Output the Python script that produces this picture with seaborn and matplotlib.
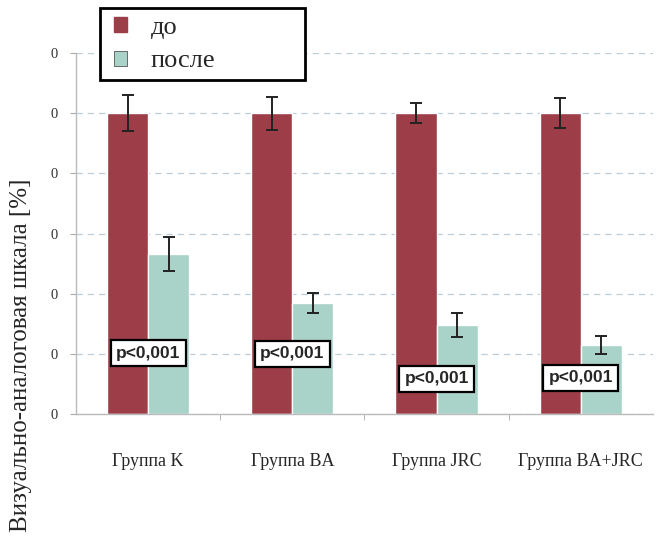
import pandas as pd
import matplotlib
matplotlib.use("Agg")
import matplotlib.pyplot as plt
import seaborn as sns
from matplotlib.patches import Patch, Rectangle

# values (scale 0..120, ticks every 20)
groups = ["Группа K", "Группа BA", "Группа JRC", "Группа BA+JRC"]
before = [100, 100, 100, 100]
before_err = [6.0, 5.5, 3.3, 5.0]
after = [53.3, 37.0, 29.7, 23.0]
after_err = [5.7, 3.3, 4.0, 3.0]
p_text = ["p<0,001", "p<0,001", "p<0,001", "p<0,001"]
p_y = [20.3, 20.0, 11.7, 12.0]
yticks = [0, 20, 40, 60, 80, 100, 120]

c_before = "#9c3d48"
c_after = "#a9d2c9"

df = pd.DataFrame({
    "group": groups * 2,
    "when": ["до"] * 4 + ["после"] * 4,
    "value": before + after,
})

sns.set_style("white")
plt.rcParams["font.family"] = ["Liberation Serif", "DejaVu Serif"]

fig = plt.figure(figsize=(6.62, 5.42), dpi=100)
ax = fig.add_axes([0.115, 0.236, 0.871, 0.666])

sns.barplot(data=df, x="group", y="value", hue="when", order=groups,
            palette=[c_before, c_after], width=0.57, gap=0, errorbar=None,
            legend=False, ax=ax, saturation=1, zorder=2)

errs = [before_err, after_err]
for cont, err in zip(ax.containers, errs):
    for bar, e in zip(cont, err):
        x = bar.get_x() + bar.get_width() / 2
        ax.errorbar(x, bar.get_height(), yerr=e, color="#222222",
                    capsize=4, elinewidth=1.4, capthick=1.4, zorder=4)

for i, (t, y) in enumerate(zip(p_text, p_y)):
    ax.text(i, y, t, ha="center", va="center", fontsize=12.5,
            fontweight="bold", family="Liberation Sans", zorder=5,
            bbox=dict(boxstyle="square,pad=0.3", fc="white", ec="black", lw=1.6))

ax.set_ylim(0, 120)
ax.set_xlim(-0.5, 3.5)
ax.set_yticks(yticks)
ax.set_yticklabels(["0"] * len(yticks), fontsize=10.5, color="#333333")
ax.yaxis.grid(True, linestyle=(0, (5, 4)), color="#bccdda", lw=0.9, zorder=0)
ax.tick_params(axis="y", length=4, color="#aaaaaa", pad=9, left=True)

ax.set_xticks(range(len(groups)))
ax.set_xticklabels(groups, fontsize=13)
ax.tick_params(axis="x", which="major", length=0, pad=28)
ax.set_xticks([0.5, 1.5, 2.5], minor=True)
ax.tick_params(axis="x", which="minor", length=4, color="#aaaaaa", bottom=True)
ax.set_xlabel("")
ax.set_ylabel("")

for s in ["top", "right"]:
    ax.spines[s].set_visible(False)
for s in ["left", "bottom"]:
    ax.spines[s].set_color("#bbbbbb")
    ax.spines[s].set_linewidth(1)

fig.text(0.031, 0.345, "Визуально-аналоговая шкала [%]", rotation=90,
         ha="center", va="center", fontsize=18)

# legend: entries plus a wide black frame
handles = [Patch(fc=c_before, ec=c_before), Patch(fc=c_after, ec="#555555", lw=0.6)]
leg = fig.legend(handles, ["до", "после"], loc="upper left",
                 bbox_to_anchor=(0.172, 0.968), fontsize=19, frameon=False,
                 handlelength=0.5, handleheight=0.5,
                 handletextpad=0.9, borderpad=0, labelspacing=0.42,
                 borderaxespad=0)
fig.patches.append(Rectangle((0.151, 0.852), 0.310, 0.133, transform=fig.transFigure,
                             fill=True, fc="white", ec="black", lw=2, zorder=0))

fig.savefig("out.png", dpi=100)
